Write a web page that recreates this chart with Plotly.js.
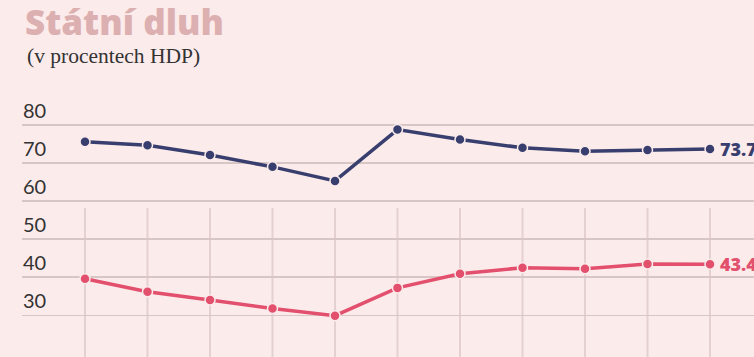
<!DOCTYPE html>
<html><head><meta charset="utf-8">
<script src="https://cdn.plot.ly/plotly-3.0.1.min.js"></script>
<style>body{margin:0;background:#fcebeb;}#c{width:754px;height:357px;}</style>
</head><body><div id="c"></div>
<script>
const years = [0,1,2,3,4,5,6,7,8,9,10];
const seriesA = [75.6,74.7,72.1,69.0,65.3,78.8,76.2,74.0,73.1,73.4,73.7];
const seriesB = [39.6,36.2,34.0,31.8,29.9,37.2,40.9,42.5,42.2,43.5,43.4];
const yTicks = [30,40,50,60,70,80];
const endLabelA = "73.7";
const endLabelB = "43.4";
const colA = "#383f6e", colB = "#e2506d", bg = "#fcebeb";

function line(y, c){
  return {x: years, y: y, type:'scatter', mode:'lines+markers', cliponaxis:false,
    line:{color:c, width:3.5}, marker:{color:c, size:10, line:{color:bg, width:1.5}}, hoverinfo:'skip'};
}
const traces = [ line(seriesA, colA), line(seriesB, colB) ];
const vgrid = years.map(v => ({type:'line', layer:'below', xref:'x', yref:'y', x0:v, x1:v, y0:58.2, y1:15,
  line:{color:'#e4d0d0', width:2}}));
const layout = {
  width:754, height:357, paper_bgcolor:bg, plot_bgcolor:'rgba(0,0,0,0)',
  margin:{l:22, r:0, t:95, b:0}, showlegend:false,
  xaxis:{range:[-1.008,10.704], showgrid:false, zeroline:false, showticklabels:false, ticks:'', fixedrange:true},
  yaxis:{range:[19.04,87.88], tickvals:yTicks, ticktext:yTicks.map(String), ticklabelposition:'inside top',
    gridcolor:'#d8c6c6', gridwidth:1.5, zeroline:false, showline:false, ticks:'', layer:'below traces',
    tickfont:{family:'Lato, sans-serif', size:20, color:'#333'}, ticklabelstandoff:-2},
  shapes: vgrid,
  annotations:[
    {xref:'x', yref:'y', x:years[10], y:seriesA[10], text:endLabelA, showarrow:false, xanchor:'left', xshift:8,
      font:{family:'Open Sans, sans-serif', size:18, color:colA, weight:800}},
    {xref:'x', yref:'y', x:years[10], y:seriesB[10], text:endLabelB, showarrow:false, xanchor:'left', xshift:8,
      font:{family:'Open Sans, sans-serif', size:18, color:colB, weight:800}},
    {xref:'paper', yref:'paper', x:0.002, y:1.28, xanchor:'left', yanchor:'middle', text:'Státní dluh', showarrow:false,
      font:{family:'Open Sans, sans-serif', size:35, color:'#dcb0b1', weight:800}},
    {xref:'paper', yref:'paper', x:0.004, y:1.147, xanchor:'left', yanchor:'middle', text:'(v procentech HDP)', showarrow:false,
      font:{family:'Liberation Serif, serif', size:21.5, color:'#333'}}
  ]
};
Plotly.newPlot('c', traces, layout, {displayModeBar:false, staticPlot:true});
</script></body></html>
